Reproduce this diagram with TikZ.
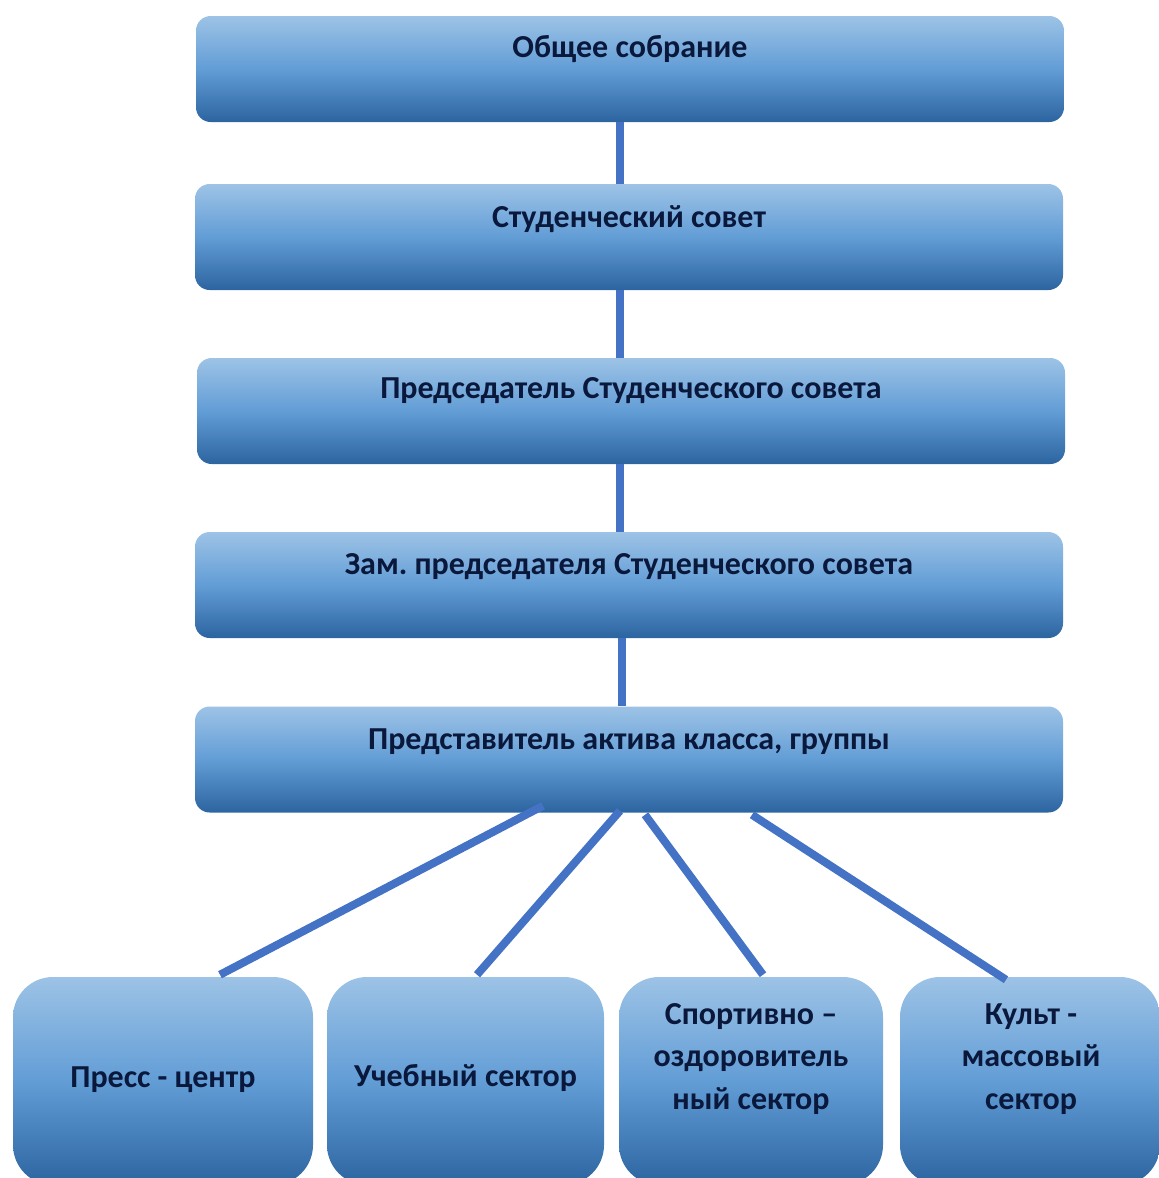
\documentclass[tikz,border=0pt]{standalone}
\usepackage{fontspec}
\setmainfont{Carlito}
\frenchspacing
\definecolor{boxtop}{RGB}{157,195,230}
\definecolor{boxmid}{RGB}{98,157,214}
\definecolor{boxbot}{RGB}{44,100,160}
\definecolor{linkblue}{RGB}{68,114,196}
\definecolor{navy}{RGB}{10,24,60}
\begin{document}
\begin{tikzpicture}[x=0.75pt,y=-0.75pt,
  rankbox/.style={rounded corners=11pt,top color=boxtop,bottom color=boxbot,middle color=boxmid,
    minimum width=651pt,minimum height=79.5pt,inner sep=0pt},
  sectbox/.style={rounded corners=30pt,top color=boxtop,bottom color=boxbot,middle color=boxmid,
    minimum height=156pt,inner sep=0pt},
  boxtext/.style={text=navy,font=\bfseries\fontsize{24}{32}\selectfont,align=center,inner sep=0pt},
  link/.style={linkblue,line width=6pt}]
\useasboundingbox (0,0) rectangle (1158,1178);
%\fill[white] (0,0) rectangle (1158,1178);
\node[rankbox] (sobr) at (630,69) {};
\node[rankbox] (sovet) at (629,237) {};
\node[rankbox] (pred) at (631,411) {};
\node[rankbox] (zam) at (629,585) {};
\node[rankbox] (aktiv) at (629,759.5) {};
\node[boxtext] (sobrt) at (630,49) {Общее собрание};
\node[boxtext] (sovett) at (629,219) {Студенческий совет};
\node[boxtext] (predt) at (631,391) {Председатель Студенческого совета};
\node[boxtext] (zamt) at (629,567) {Зам. председателя Студенческого совета};
\node[boxtext] (aktivt) at (629,742) {Представитель актива класса, группы};
% sectors
\node[sectbox,minimum width=225pt] (press) at (163,1081) {};
\node[sectbox,minimum width=207.75pt] (ucheb) at (465.5,1081) {};
\node[sectbox,minimum width=198pt] (sport) at (751,1081) {};
\node[sectbox,minimum width=195pt] (kult) at (1030,1081) {};
\node[boxtext] (presst) at (163,1080) {Пресс - центр};
\node[boxtext] (uchebt) at (465.5,1078) {Учебный сектор};
\node[boxtext] (sportt) at (751,1059) {Спортивно –\\оздоровитель\\ный сектор};
\node[boxtext] (kultt) at (1031,1059) {Культ -\\массовый\\сектор};
% vertical links
\draw[link] ([shift={(-10,0)}]sobr.south) -- ([shift={(-9,0)}]sovet.north);
\draw[link] ([shift={(-9,0)}]sovet.south) -- ([shift={(-11,0)}]pred.north);
\draw[link] ([shift={(-11,0)}]pred.south) -- ([shift={(-9,0)}]zam.north);
\draw[link] ([shift={(-7,0)}]zam.south) -- ([shift={(-7,0)}]aktiv.north);
% links to sectors
\draw[link] ([shift={(-86,-7)}]aktiv.south) -- ([shift={(57,-2)}]press.north);
\draw[link] ([shift={(-9,-2)}]aktiv.south) -- ([shift={(11.5,-2)}]ucheb.north);
\draw[link] ([shift={(16,2)}]aktiv.south) -- ([shift={(12,-2)}]sport.north);
\draw[link] ([shift={(123,2)}]aktiv.south) -- ([shift={(-24,3)}]kult.north);
\end{tikzpicture}
\end{document}
